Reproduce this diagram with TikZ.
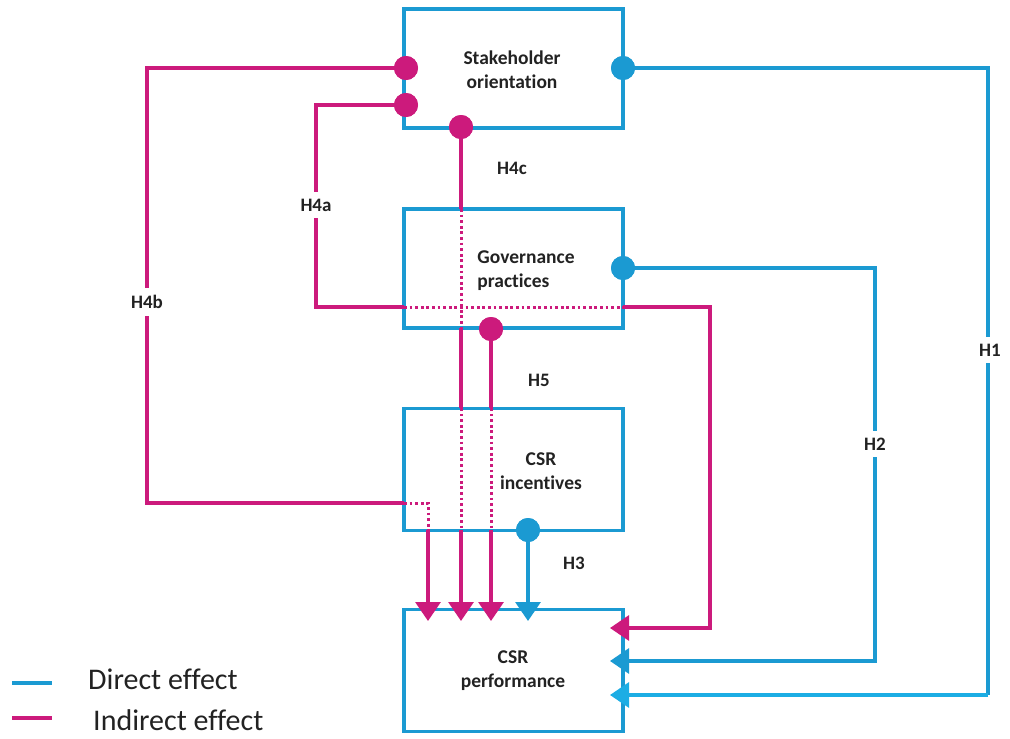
\documentclass[tikz,border=0pt]{standalone}
\usepackage{fontspec}
\setmainfont[Ligatures=NoCommon]{Carlito}
\usetikzlibrary{arrows.meta}
\definecolor{cblue}{HTML}{1B9AD2}
\definecolor{cblue2}{HTML}{1CADE4}
\definecolor{cmag}{HTML}{CC1A7C}
\definecolor{ctext}{HTML}{222222}
\tikzset{
  box/.style={draw=cblue, line width=3.4pt, minimum width=219pt, inner sep=0pt},
  boxtext/.style={text=ctext, font=\fontsize{19.5}{24}\selectfont\bfseries},
  dotm/.style={circle, fill=cmag, minimum size=24pt, inner sep=0pt},
  dotb/.style={circle, fill=cblue, minimum size=24pt, inner sep=0pt},
  ml/.style={draw=cmag, line width=3.2pt},
  mdot/.style={draw=cmag, line width=3pt, dash pattern=on 2.8pt off 2.8pt},
  bl/.style={draw=cblue, line width=3.2pt},
  tipm/.style={-{Triangle[length=19pt,width=25pt]}},
  lab/.style={fill=white, text=ctext, font=\fontsize{19}{21}\selectfont\bfseries, inner xsep=2pt, inner ysep=7pt},
  labn/.style={text=ctext, font=\fontsize{19}{21}\selectfont\bfseries},
  leg/.style={text=ctext, font=\fontsize{30}{32}\selectfont, anchor=base west, inner sep=0pt}
}
\begin{document}
\begin{tikzpicture}[x=1pt,y=-1pt]
\useasboundingbox (0,0) rectangle (1010,739);
% boxes
\node[box, minimum height=119pt] (so) at (513.5,68.5) {};
\node[box, minimum height=119pt] (gp) at (513.5,268.5) {};
\node[box, minimum height=122pt] (ci) at (513.5,469.5) {};
\node[box, minimum height=122pt] (cp) at (513.5,670.5) {};
\node[boxtext, align=center] (sot) at (512,70) {Stakeholder\\orientation};
\node[boxtext, align=left] (gpt) at (526,271) {Governance\\practices};
\node[boxtext, align=center] (cit) at (541,471) {CSR\\incentives};
\node[boxtext, align=center] (cpt) at (513,671) {CSR\\performance};
% path coordinates
\coordinate (b1) at (147,68);  \coordinate (b2) at (147,503);
\coordinate (b3) at (404,503); \coordinate (b4) at (428,503);
\coordinate (b5) at (428,530); \coordinate (b6) at (428,621);
\coordinate (a1) at (316,105); \coordinate (a2) at (316,307);
\coordinate (a3) at (404,307); \coordinate (a4) at (623,307);
\coordinate (a5) at (710,307); \coordinate (a6) at (710,628);
\coordinate (a7) at (610,628);
\coordinate (c1) at (461,209); \coordinate (c2) at (461,328);
\coordinate (c3) at (461,408); \coordinate (c4) at (461,530);
\coordinate (c5) at (461,621);
\coordinate (e1) at (491,408); \coordinate (e2) at (491,530);
\coordinate (e3) at (491,621);
\coordinate (h3e) at (528,621);
\coordinate (h21) at (875,268); \coordinate (h22) at (875,661); \coordinate (h23) at (610,661);
\coordinate (h11) at (988,68);  \coordinate (h12) at (988,695); \coordinate (h13) at (610,695);
% dots
\node[dotm] (dsb) at (406,68) {};
\node[dotm] (dsa) at (406,105) {};
\node[dotm] (dsc) at (461,127) {};
\node[dotb] (ds1) at (623,68) {};
\node[dotb] (dg2) at (623,268) {};
\node[dotm] (dg5) at (491,329) {};
\node[dotb] (dc3) at (528,530) {};
% H4b
\draw[ml] (dsb.center) -- (b1) -- (b2) -- (b3);
\draw[mdot] (b3) -- (b4) -- (b5);
\draw[ml, tipm] (b5) -- (b6);
% H4a
\draw[ml] (dsa.center) -- (a1) -- (a2) -- (a3);
\draw[mdot] (a3) -- (a4);
\draw[ml, tipm] (a4) -- (a5) -- (a6) -- (a7);
% H4c
\draw[ml] (dsc.center) -- (c1);
\draw[mdot] (c1) -- (c2);
\draw[ml] (c2) -- (c3);
\draw[mdot] (c3) -- (c4);
\draw[ml, tipm] (c4) -- (c5);
% H5
\draw[ml] (dg5.center) -- (e1);
\draw[mdot] (e1) -- (e2);
\draw[ml, tipm] (e2) -- (e3);
% H3
\draw[bl, tipm] (dc3.center) -- (h3e);
% H2
\draw[bl, tipm] (dg2.center) -- (h21) -- (h22) -- (h23);
% H1
\draw[bl] (ds1.center) -- (h11) -- (h12);
\draw[draw=cblue2, line width=3.2pt, tipm] (h12) -- (h13);
% redraw dots on top
\node[dotm] at (dsb) {};
\node[dotm] at (dsa) {};
\node[dotm] at (dsc) {};
\node[dotb] at (ds1) {};
\node[dotb] at (dg2) {};
\node[dotm] at (dg5) {};
\node[dotb] at (dc3) {};
% labels
\node[lab] (l4b) at (147,302) {H4b};
\node[lab] (l4a) at (316,205) {H4a};
\node[lab] (l1) at (990,350) {H1};
\node[lab] (l2) at (875,444) {H2};
\node[labn] (l4c) at (512,168) {H4c};
\node[labn] (l5) at (539,380) {H5};
\node[labn] (l3) at (574,563) {H3};
% legend
\coordinate (lg1a) at (12,683); \coordinate (lg1b) at (52,683);
\coordinate (lg2a) at (12,718); \coordinate (lg2b) at (52,718);
\draw[bl] (lg1a) -- (lg1b);
\draw[ml] (lg2a) -- (lg2b);
\node[leg] (ld) at (88,689) {Direct effect};
\node[leg] (li) at (93,730) {Indirect effect};
\end{tikzpicture}
\end{document}
